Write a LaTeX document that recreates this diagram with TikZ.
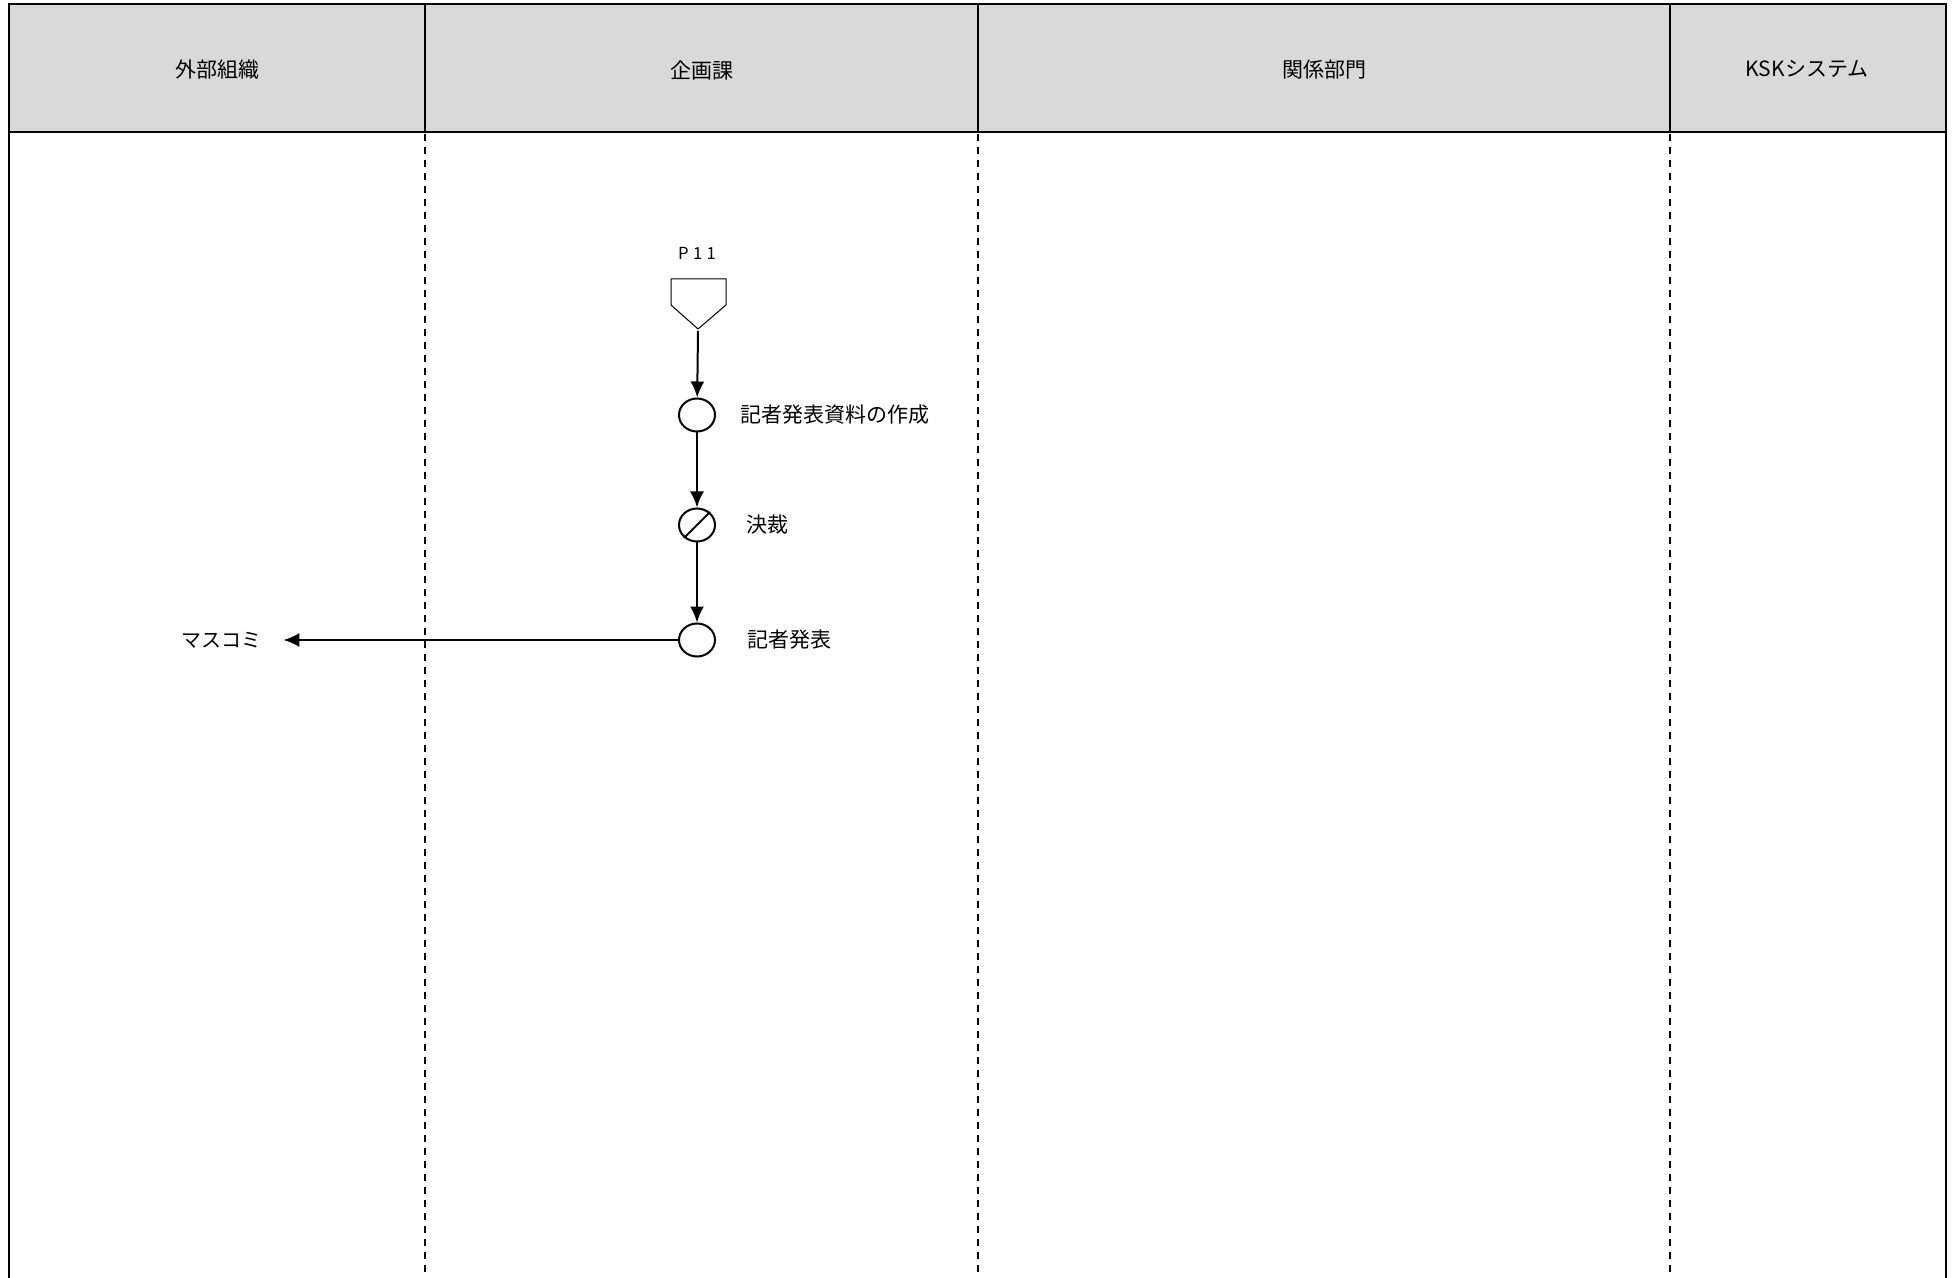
\documentclass[tikz,border=0pt]{standalone}
\usepackage{fontspec}
\setmainfont{Noto Sans CJK JP}
\usepackage{xcolor}
\usetikzlibrary{positioning}
\usetikzlibrary{arrows.meta,shapes.geometric}

\definecolor{headgray}{HTML}{D9D9D9}
\tikzset{
  lane/.style={line width=1pt},
  lanehead/.style={lane,fill=headgray},
  divider/.style={line width=1pt,dash pattern=on 3.5pt off 3pt},
  proc/.style={draw,ellipse,line width=1pt,minimum width=18pt,minimum height=16.5pt,inner sep=0pt},
  flow/.style={line width=1pt,-{Latex[length=8pt,width=7pt]}},
  lanetitle/.style={inner sep=0pt,font=\fontsize{10.5}{12}\selectfont},
  proctext/.style={anchor=west,inner sep=0pt,font=\fontsize{10.5}{12}\selectfont}
}

\begin{document}
\begin{tikzpicture}[x=0.5pt,y=-0.5pt]
    \useasboundingbox (0,0) rectangle (1955,1278);

    % header row
    \draw[lanehead] (9,4) rectangle (1946,132);
    \draw[lane] (425,4) -- (425,132);
    \draw[lane] (978,4) -- (978,132);
    \draw[lane] (1670,4) -- (1670,132);

    % lanes
    \draw[lane] (9,132) -- (9,1278);
    \draw[lane] (1946,132) -- (1946,1278);
    \draw[divider] (425,134) -- (425,1278);
    \draw[divider] (978,134) -- (978,1278);
    \draw[divider] (1670,134) -- (1670,1278);

    \node[lanetitle] (gaibu) at (217,70) {外部組織};
    \node[lanetitle] (kikaku) at (702,70) {企画課};
    \node[lanetitle] (kankei) at (1324,70) {関係部門};
    \node[lanetitle] (ksk) at (1807,69) {KSKシステム};

    % off-page connector
    \node[inner sep=0pt,font=\fontsize{8.3}{10}\selectfont] (p11) at (697,253) {P\hspace{2.2pt}1\hspace{2.2pt}1};
    \draw[line width=0.5pt] (671,279) -- (726,279) -- (726,305) -- (698,329) -- (671,305) -- cycle;
    \coordinate (p11tip) at (698,331);

    \node[proc] (sakusei) at (697,415) {};
    \node[proc] (kessai) at (697,525) {};
    \node[proc] (happyo) at (697,640) {};
    \draw[line width=1pt] (kessai.225) -- (kessai.45);

    \node[proctext] (sakuseitxt) at (740,415) {記者発表資料の作成};
    \node[proctext] (kessaitxt) at (746,525) {決裁};
    \node[proctext] (happyotxt) at (747,640) {記者発表};
    \node[lanetitle,font=\fontsize{10}{12}\selectfont] (masukomi) at (221,640) {マスコミ};

    \draw[flow] (p11tip) -- (sakusei);
    \draw[flow] (sakusei) -- (kessai);
    \draw[flow] (kessai) -- (happyo);
    \draw[flow] (happyo) -- ([xshift=11pt]masukomi.east);
\end{tikzpicture}
\end{document}
